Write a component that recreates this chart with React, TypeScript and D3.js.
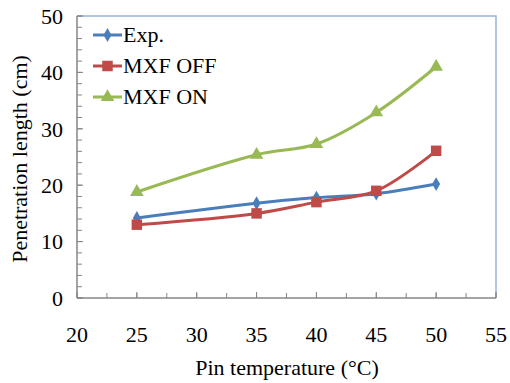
import React from 'react';
import * as d3 from 'd3';

const temps = [25, 35, 40, 45, 50];
const expValues = [14.2, 16.8, 17.8, 18.5, 20.2];
const offValues = [13.0, 15.0, 17.0, 19.0, 26.1];
const onValues = [18.8, 25.4, 27.3, 32.9, 41.0];
const xTicks = [20, 25, 30, 35, 40, 45, 50, 55];
const yTicks = [0, 10, 20, 30, 40, 50];

const series = [
  { name: 'Exp.', values: expValues, color: '#4a7ebb', symbol: d3.symbolDiamond, size: 55 },
  { name: 'MXF OFF', values: offValues, color: '#be4b48', symbol: d3.symbolSquare, size: 110 },
  { name: 'MXF ON', values: onValues, color: '#98b954', symbol: d3.symbolTriangle, size: 80 },
];

const W = 510, H = 383;
const m = { top: 16, right: 14, bottom: 85, left: 77 };
const font = "'Liberation Serif', 'Times New Roman', serif";
const axisColor = '#868686';

export default function App() {
  const x = d3.scaleLinear().domain([20, 55]).range([m.left, W - m.right]);
  const y = d3.scaleLinear().domain([0, 50]).range([H - m.bottom, m.top]);
  const line = d3.line<number>()
    .x((_, i) => x(temps[i]))
    .y(d => y(d))
    .curve(d3.curveCatmullRom.alpha(0.5));
  const textStyle = { fontFamily: font, fontSize: 22 };

  return (
    <div style={{ position: 'absolute', left: 0, top: 0, background: '#fff' }}>
      <svg width={W} height={H}>
        {/* plot border top/right */}
        <path d={`M${x(20)},${y(50)}H${x(55)}V${y(0)}`} fill="none" stroke="#95b3d7" strokeWidth={1.5} />

        {/* minor ticks */}
        {d3.range(0, 50.1, 2).map(v => (
          <line key={'my' + v} x1={x(20)} x2={x(20) + 5} y1={y(v)} y2={y(v)} stroke={axisColor} />
        ))}
        {d3.range(20, 55.1, 2.5).map(v => (
          <line key={'mx' + v} x1={x(v)} x2={x(v)} y1={y(0)} y2={y(0) - 5} stroke={axisColor} />
        ))}

        {/* axes */}
        <line x1={x(20)} x2={x(20)} y1={y(0)} y2={y(50)} stroke={axisColor} strokeWidth={1.5} />
        <line x1={x(20)} x2={x(55)} y1={y(0)} y2={y(0)} stroke={axisColor} strokeWidth={1.5} />
        {yTicks.map(v => (
          <g key={'yt' + v}>
            <line x1={x(20)} x2={x(20) + 6} y1={y(v)} y2={y(v)} stroke={axisColor} />
            <text x={x(20) - 14} y={y(v)} dy="0.35em" textAnchor="end" style={textStyle}>{v}</text>
          </g>
        ))}
        {xTicks.map(v => (
          <g key={'xt' + v}>
            <line x1={x(v)} x2={x(v)} y1={y(0)} y2={y(0) - 6} stroke={axisColor} />
            <text x={x(v)} y={y(0) + 44} textAnchor="middle" style={textStyle}>{v}</text>
          </g>
        ))}

        {/* series */}
        {series.map(s => (
          <g key={s.name}>
            <path d={line(s.values) ?? ''} fill="none" stroke={s.color} strokeWidth={3} />
            {s.values.map((d, i) => (
              <path key={i} transform={`translate(${x(temps[i])},${y(d)})`}
                d={d3.symbol().type(s.symbol).size(s.size)() ?? ''} fill={s.color} />
            ))}
          </g>
        ))}

        {/* legend */}
        <g transform="translate(93,35)">
          {series.map((s, i) => (
            <g key={s.name} transform={`translate(0,${i * 31})`}>
              <line x1={0} x2={29} y1={0} y2={0} stroke={s.color} strokeWidth={3} />
              <path transform="translate(14.5,0)" d={d3.symbol().type(s.symbol).size(s.size)() ?? ''} fill={s.color} />
              <text x={30} y={7} style={textStyle}>{s.name}</text>
            </g>
          ))}
        </g>

        <text x={287} y={375} textAnchor="middle" style={textStyle}>
          Pin temperature (°C)
        </text>
        <text transform="translate(27,159) rotate(-90)" textAnchor="middle" style={textStyle}>
          Penetration length (cm)
        </text>
      </svg>
    </div>
  );
}
